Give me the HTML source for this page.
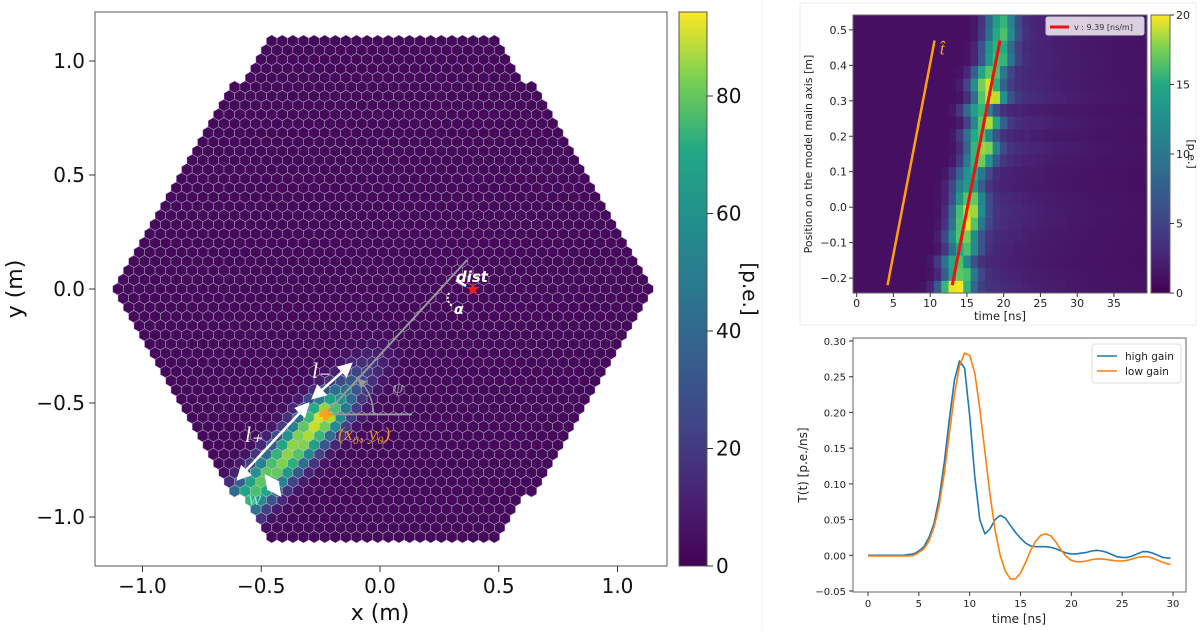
<!DOCTYPE html>
<html><head><meta charset="utf-8"><style>
body{margin:0;background:#fff;width:1200px;height:631px;overflow:hidden;font-family:"DejaVu Sans","Liberation Sans",sans-serif}
svg{position:absolute;left:0;top:0}
</style></head><body>
<svg id="fig" width="1200" height="631" viewBox="0 0 1200 631">
<defs>
<linearGradient id="vir" x1="0" y1="1" x2="0" y2="0">
<stop offset="0" stop-color="#440154"/><stop offset="0.13" stop-color="#482475"/><stop offset="0.25" stop-color="#414487"/><stop offset="0.38" stop-color="#355f8d"/><stop offset="0.5" stop-color="#2a788e"/><stop offset="0.63" stop-color="#21918c"/><stop offset="0.75" stop-color="#22a884"/><stop offset="0.88" stop-color="#7ad151"/><stop offset="1" stop-color="#fde725"/>
</linearGradient>
<marker id="ah" markerWidth="6" markerHeight="6" refX="5" refY="3" orient="auto-start-reverse"><path d="M0,0L6,3L0,6z" fill="#fff"/></marker>
<marker id="ahg" markerWidth="6" markerHeight="6" refX="5" refY="3" orient="auto"><path d="M0,0L6,3L0,6z" fill="#999"/></marker>
<clipPath id="clipL"><rect x="95" y="12" width="572" height="554"/></clipPath>
<clipPath id="clipTR"><rect x="853" y="15" width="294" height="278"/></clipPath>
</defs>
<line x1="762" y1="0" x2="762" y2="631" stroke="#eee"/>
<rect x="800" y="3" width="396" height="322" fill="none" stroke="#eee"/>
<g id="left"></g>
<g id="tr"></g>
<g id="br"></g>
</svg>
<script>
// ---------- data: camera image ----------
const hillasParams = [-0.23, -0.55, 48.5]; // cog x, cog y, psi deg
const profileS = [-0.66,-0.55,-0.45,-0.35,-0.25,-0.15,-0.05,0.0,0.08,0.16,0.26,0.36];
const profileAmp = [30,55,65,72,75,80,85,90,50,28,14,5];
const widthM = [0.055];
const baseline = [2];
const cbarTicks = [0,20,40,60,80];
const xTicksL = [-1.0,-0.5,0.0,0.5,1.0];
const yTicksL = [-1.0,-0.5,0.0,0.5,1.0];
// ---------- data: time heatmap ----------
const rowPeak = [13.3,14,13.5,14.5,14.3,14.8,15,15.2,15,15.5,16.5,17,16.5,17.5,16.5,18,17.5,18,19,19,19.5,19.5];
const rowAmp = [19,14,12,12,14,16,17,14,10,10,13,16,12,15,11,18,16,14,13,12,12,11];
const trXTicks = [0,5,10,15,20,25,30,35];
const trYTicks = [-0.2,-0.1,0.0,0.1,0.2,0.3,0.4,0.5];
const trCbarTicks = [0,5,10,15,20];
const fitLineRed = [[13,-0.22],[19.5,0.47]];
const fitLineOrange = [[4.2,-0.22],[10.6,0.47]];
// ---------- data: pulse templates ----------
const tGrid = [0,0.5,1,1.5,2,2.5,3,3.5,4,4.5,5,5.5,6,6.5,7,7.5,8,8.5,9,9.5,10,10.5,11,11.5,12,12.5,13,13.5,14,14.5,15,15.5,16,16.5,17,17.5,18,18.5,19,19.5,20,20.5,21,21.5,22,22.5,23,23.5,24,24.5,25,25.5,26,26.5,27,27.5,28,28.5,29,29.5,29.75];
const highGain = [0,0,0,0,0,0,0,0,0.001,0.002,0.006,0.012,0.025,0.045,0.08,0.13,0.19,0.245,0.272,0.262,0.195,0.11,0.05,0.03,0.037,0.05,0.056,0.052,0.042,0.032,0.024,0.017,0.013,0.012,0.012,0.012,0.011,0.009,0.006,0.003,0.002,0.002,0.003,0.004,0.006,0.007,0.006,0.004,0.001,-0.002,-0.003,-0.003,-0.001,0.002,0.005,0.005,0.003,0,-0.003,-0.004,-0.004];
const lowGain = [-0.001,-0.001,-0.001,-0.001,-0.001,-0.001,-0.001,-0.001,-0.001,0,0.004,0.009,0.02,0.04,0.07,0.115,0.17,0.225,0.265,0.283,0.28,0.255,0.205,0.145,0.085,0.035,0.0,-0.022,-0.033,-0.033,-0.025,-0.01,0.007,0.02,0.028,0.03,0.027,0.018,0.007,-0.002,-0.007,-0.009,-0.009,-0.008,-0.006,-0.005,-0.005,-0.006,-0.007,-0.008,-0.008,-0.007,-0.005,-0.003,-0.002,-0.002,-0.004,-0.007,-0.01,-0.012,-0.013];
const brXTicks = [0,5,10,15,20,25,30];
const brYTicks = [-0.05,0.00,0.05,0.10,0.15,0.20,0.25,0.30];

const NS='http://www.w3.org/2000/svg';
function mk(parent,tag,attrs,text){const e=document.createElementNS(NS,tag);for(const k in attrs)e.setAttribute(k,attrs[k]);if(text!==undefined)e.textContent=text;parent.appendChild(e);return e;}
const VIR=[[68,1,84],[72,36,117],[65,68,135],[53,95,141],[42,120,142],[33,145,140],[34,168,132],[68,190,112],[122,209,81],[189,223,38],[253,231,37]];
function viridis(t){t=Math.max(0,Math.min(1,t));const f=t*10,i=Math.min(9,Math.floor(f)),r=f-i;const a=VIR[i],b=VIR[i+1];return `rgb(${Math.round(a[0]+(b[0]-a[0])*r)},${Math.round(a[1]+(b[1]-a[1])*r)},${Math.round(a[2]+(b[2]-a[2])*r)})`;}
function interp(xs,ys,x){if(x<=xs[0])return ys[0]*Math.max(0,1-(xs[0]-x)/0.1);if(x>=xs[xs.length-1])return ys[ys.length-1]*Math.max(0,1-(x-xs[xs.length-1])/0.1);for(let i=0;i<xs.length-1;i++)if(x<=xs[i+1]){const r=(x-xs[i])/(xs[i+1]-xs[i]);return ys[i]+(ys[i+1]-ys[i])*r;}}
function fmt(v,d){return v<0?'\u2212'+Math.abs(v).toFixed(d):v.toFixed(d);}

// ================= LEFT PANEL =================
(function(){
const g=document.getElementById('left');
const X=v=>380+v*237.5, Y=v=>289-v*228;
const cg=mk(g,'g',{'clip-path':'url(#clipL)'});

const cx=383,cy=289,R=272,RT=118,H=252,p=10.6,dy=p*Math.sqrt(3)/2,hr=p/Math.sqrt(3);
const ang=hillasParams[2]*Math.PI/180, ux=Math.cos(ang), uy=Math.sin(ang);
for(let j=-30;j<=30;j++){
  const py=cy+j*dy; if(Math.abs(py-cy)>H) continue;
  const off=(j&1)?p/2:0;
  for(let i=-30;i<=30;i++){
    const px=cx+i*p+off;
    if(Math.abs(px-cx) > R-(R-RT)*Math.abs(py-cy)/H) continue;
    const mx=(px-380)/237.5, my=(289-py)/228;
    const dx=mx-hillasParams[0], dyy=my-hillasParams[1];
    const s=dx*ux+dyy*uy, u=-dx*uy+dyy*ux;
    const val=baseline[0]+interp(profileS,profileAmp,s)*Math.exp(-u*u/(2*widthM[0]*widthM[0]));
    let pts=[];for(let k=0;k<6;k++){const a=Math.PI/6+k*Math.PI/3;pts.push((px+hr*Math.cos(a)).toFixed(1)+','+(py+hr*Math.sin(a)).toFixed(1));}
    const h=mk(cg,'polygon',{points:pts.join(' '),fill:viridis(val/94),stroke:'rgba(200,200,220,0.55)','stroke-width':0.7});
    
    
  }
}
mk(g,'rect',{x:95,y:12,width:572,height:554,fill:'none',stroke:'#555','stroke-width':1,});
xTicksL.forEach(v=>{mk(g,'line',{x1:X(v),x2:X(v),y1:566,y2:572,stroke:'#333'});const t=mk(g,'text',{x:X(v),y:593,'font-size':20,'text-anchor':'middle',fill:'#111'},fmt(v,1));});
yTicksL.forEach(v=>{mk(g,'line',{x1:89,x2:95,y1:Y(v),y2:Y(v),stroke:'#333'});const t=mk(g,'text',{x:85,y:Y(v)+7,'font-size':20,'text-anchor':'end',fill:'#111'},fmt(v,1));});
mk(g,'text',{x:380,y:620,'font-size':22,'text-anchor':'middle',fill:'#111',},'x  (m)');
mk(g,'text',{x:22,y:289,'font-size':22,'text-anchor':'middle',fill:'#111',transform:'rotate(-90 22 289)',},'y  (m)');
const CY=v=>566-v*(470/80);
mk(g,'rect',{x:679,y:12,width:28,height:554,fill:'url(#vir)',stroke:'#555',});
cbarTicks.forEach(v=>{mk(g,'line',{x1:707,x2:713,y1:CY(v),y2:CY(v),stroke:'#333'});const t=mk(g,'text',{x:716,y:CY(v)+7,'font-size':20,fill:'#111'},String(v));});
mk(g,'text',{x:743,y:289,'font-size':20,'text-anchor':'middle',fill:'#111',transform:'rotate(90 743 289)',},'[p.e.]');
const a=mk(g,'g',{});
const qx=X(hillasParams[0]), qy=Y(hillasParams[1]);
mk(a,'line',{x1:qx,y1:qy,x2:467,y2:260,stroke:'#999','stroke-width':2,});
mk(a,'line',{x1:qx,y1:qy,x2:412,y2:qy,stroke:'#999','stroke-width':2,});
mk(a,'path',{d:`M${qx+48},${qy} A48,48 0 0 0 ${qx+33},${qy-35}`,fill:'none',stroke:'#999','stroke-width':1.5,'marker-end':'url(#ahg)',});
mk(a,'text',{x:393,y:393,'font-size':17,fill:'#999','font-family':'Liberation Serif,serif','font-style':'italic',},'ψ');
mk(a,'line',{x1:313,y1:398,x2:351,y2:364,stroke:'#fff','stroke-width':2.5,'marker-start':'url(#ah)','marker-end':'url(#ah)',});
mk(a,'line',{x1:238,y1:479,x2:308,y2:404,stroke:'#fff','stroke-width':2.5,'marker-start':'url(#ah)','marker-end':'url(#ah)',});
mk(a,'line',{x1:266,y1:476,x2:280,y2:495,stroke:'#fff','stroke-width':2.5,'marker-start':'url(#ah)','marker-end':'url(#ah)',});
mk(a,'text',{x:312,y:378,'font-size':22,fill:'#fff','font-family':'Liberation Serif,serif','font-style':'italic',},'l₋');
mk(a,'text',{x:245,y:442,'font-size':22,fill:'#fff','font-family':'Liberation Serif,serif','font-style':'italic',},'l₊');
mk(a,'text',{x:248,y:505,'font-size':20,fill:'#8ee0d0','font-family':'Liberation Serif,serif','font-style':'italic',},'w');
mk(a,'text',{x:338,y:440,'font-size':19,fill:'#e8941a','font-family':'Liberation Serif,serif','font-style':'italic',},'(x₀, y₀)');
mk(a,'path',{d:`M${qx-6},${qy}h12M${qx},${qy-6}v12`,stroke:'#ff9f1c','stroke-width':5,});
mk(a,'text',{x:472,y:282,'font-size':15,fill:'#fff','font-weight':'bold','font-style':'italic','text-anchor':'middle',},'dist');
mk(a,'line',{x1:456,y1:280,x2:466,y2:286,stroke:'#fff','stroke-width':2.5,});
mk(a,'path',{d:'M449,293 A10,10 0 0 0 452,306',fill:'none',stroke:'#fff','stroke-width':2,'stroke-dasharray':'2 2',});
mk(a,'text',{x:454,y:314,'font-size':14,fill:'#fff','font-style':'italic','font-weight':'bold',},'α');
mk(a,'text',{x:473,y:295,'font-size':18,fill:'#ff1a1a','text-anchor':'middle',},'★');
})();

// ================= TOP RIGHT HEATMAP =================
(function(){
const g=document.getElementById('tr');
const L=853,Rr=1147,T=15,B=293, x0=-0.5,x1=39.5,y0=-0.242,y1=0.542;
const X=v=>L+(v-x0)/(x1-x0)*(Rr-L), Y=v=>B-(v-y0)/(y1-y0)*(B-T);
const cg=mk(g,'g',{'clip-path':'url(#clipTR)'});

const nr=rowPeak.length, rh=(y1-y0)/nr;
for(let r=0;r<nr;r++){for(let c=0;c<40;c++){
  const d=c-rowPeak[r]; let v=0.8+rowAmp[r]*Math.exp(-d*d/(2*1.4*1.4));
  if(d>0) v+=rowAmp[r]*0.2*Math.exp(-d/8);
  const ya=y0+r*rh;
  const cell=mk(cg,'rect',{x:X(c-0.5),y:Y(ya+rh),width:X(c+0.5)-X(c-0.5)+0.5,height:Y(ya)-Y(ya+rh)+0.5,fill:viridis(v/20)});
  
  
}}
mk(g,'line',{x1:X(fitLineOrange[0][0]),y1:Y(fitLineOrange[0][1]),x2:X(fitLineOrange[1][0]),y2:Y(fitLineOrange[1][1]),stroke:'#ff9f0e','stroke-width':2.5,});
mk(g,'line',{x1:X(fitLineRed[0][0]),y1:Y(fitLineRed[0][1]),x2:X(fitLineRed[1][0]),y2:Y(fitLineRed[1][1]),stroke:'#f01010','stroke-width':3,});
mk(g,'text',{x:X(11.3),y:Y(0.43),'font-size':18,fill:'#ff9f0e','font-family':'Liberation Serif,serif','font-style':'italic',},'t̂');
mk(g,'rect',{x:1046,y:17,width:98,height:18,rx:2,fill:'rgba(235,228,240,0.9)',stroke:'#ccc',});
mk(g,'line',{x1:1050,y1:27,x2:1069,y2:27,stroke:'#f01010','stroke-width':3});
mk(g,'text',{x:1074,y:30,'font-size':8,fill:'#333',},'v : 9.39 [ns/m]');
mk(g,'rect',{x:L,y:T,width:Rr-L,height:B-T,fill:'none',stroke:'#666',});
trXTicks.forEach(v=>{mk(g,'line',{x1:X(v),x2:X(v),y1:B,y2:B+4,stroke:'#333'});const t=mk(g,'text',{x:X(v),y:B+14,'font-size':11,'text-anchor':'middle',fill:'#222'},String(v));});
trYTicks.forEach(v=>{mk(g,'line',{x1:L-4,x2:L,y1:Y(v),y2:Y(v),stroke:'#333'});const t=mk(g,'text',{x:L-6,y:Y(v)+4,'font-size':11,'text-anchor':'end',fill:'#222'},fmt(v,1));});
mk(g,'text',{x:1000,y:320,'font-size':11.5,'text-anchor':'middle',fill:'#222',},'time [ns]');
mk(g,'text',{x:812,y:154,'font-size':11,'text-anchor':'middle',fill:'#222',transform:'rotate(-90 812 154)',},'Position on the model main axis [m]');
const CY=v=>B-v/20*(B-T);
mk(g,'rect',{x:1151,y:T,width:19,height:B-T,fill:'url(#vir)',stroke:'#666',});
trCbarTicks.forEach(v=>{mk(g,'line',{x1:1170,x2:1174,y1:CY(v),y2:CY(v),stroke:'#333'});const t=mk(g,'text',{x:1176,y:CY(v)+4,'font-size':11,fill:'#222'},String(v));});
mk(g,'text',{x:1188,y:154,'font-size':11,'text-anchor':'middle',fill:'#222',transform:'rotate(90 1188 154)',},'[p.e.]');
})();

// ================= BOTTOM RIGHT LINES =================
(function(){
const g=document.getElementById('br');
const L=853,Rr=1186,T=338,B=592;
const X=v=>868+v*(1173-868)/30, Y=v=>341+(0.30-v)*(591-341)/0.35;
mk(g,'rect',{x:L,y:T,width:Rr-L,height:B-T,fill:'none',stroke:'#666',});
brXTicks.forEach(v=>{mk(g,'line',{x1:X(v),x2:X(v),y1:B,y2:B+4,stroke:'#333'});const t=mk(g,'text',{x:X(v),y:B+15,'font-size':10,'text-anchor':'middle',fill:'#222'},String(v));});
brYTicks.forEach(v=>{mk(g,'line',{x1:L-4,x2:L,y1:Y(v),y2:Y(v),stroke:'#333'});const t=mk(g,'text',{x:L-7,y:Y(v)+4,'font-size':10,'text-anchor':'end',fill:'#222'},fmt(v,2));});
mk(g,'text',{x:1019,y:623,'font-size':12,'text-anchor':'middle',fill:'#222',},'time [ns]');
mk(g,'text',{x:807,y:465,'font-size':12,'text-anchor':'middle',fill:'#222',transform:'rotate(-90 807 465)',},'T(t) [p.e./ns]');
function line(vals,color,name){const d=tGrid.map((t,i)=>(i?'L':'M')+X(t).toFixed(1)+','+Y(vals[i]).toFixed(1)).join('');const p=mk(g,'path',{d:d,fill:'none',stroke:color,'stroke-width':1.6,'stroke-linejoin':'round'});}
line(highGain,'#1f77b4','high-gain-line');
line(lowGain,'#ff7f0e','low-gain-line');
mk(g,'rect',{x:1092,y:344,width:89,height:39,rx:3,fill:'#fff',stroke:'#ddd',});
mk(g,'line',{x1:1097,y1:356,x2:1117,y2:356,stroke:'#1f77b4','stroke-width':1.6});
mk(g,'text',{x:1125,y:360,'font-size':10.5,fill:'#222',},'high gain');
mk(g,'line',{x1:1097,y1:371,x2:1117,y2:371,stroke:'#ff7f0e','stroke-width':1.6});
mk(g,'text',{x:1125,y:375,'font-size':10.5,fill:'#222',},'low gain');
})();
</script>
</body></html>
